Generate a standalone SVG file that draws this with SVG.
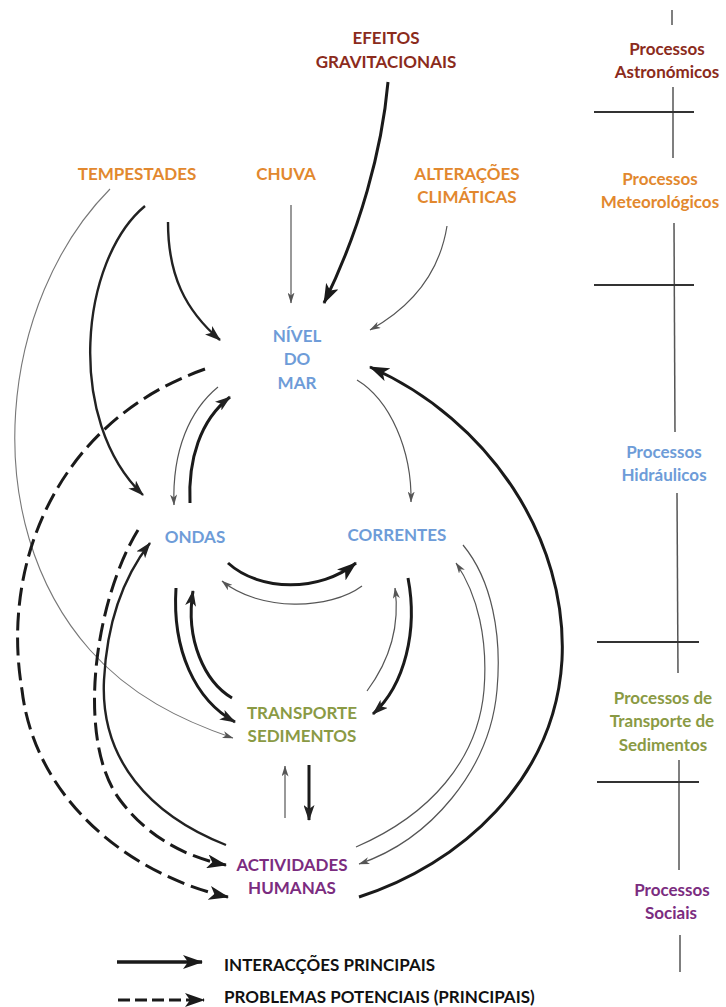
<svg xmlns="http://www.w3.org/2000/svg" width="726" height="1007" viewBox="0 0 726 1007">
  <style>
    .lbl { font-family: Lato, "Liberation Sans", sans-serif; font-weight: bold; font-size: 17px; text-anchor: middle; }
    .astro { fill: #8B2B1C; }
    .meteo { fill: #E2882E; }
    .hidro { fill: #6E9CD8; }
    .sedi { fill: #8A9A44; }
    .soc { fill: #7B2C80; }
    .leg { fill: #111; text-anchor: start; }
    .thick { fill: none; stroke: #1a1a1a; stroke-width: 3; }
    .med { fill: none; stroke: #222; stroke-width: 2.4; }
    .thin { fill: none; stroke: #555; stroke-width: 1.2; }
    .faint { fill: none; stroke: #777; stroke-width: 1.1; }
    .dash { fill: none; stroke: #1a1a1a; stroke-width: 3; stroke-dasharray: 18 7; }
    .scale { fill: none; stroke: #555; stroke-width: 1.5; }
    .tick { fill: none; stroke: #333; stroke-width: 2; }
  </style>
  <defs>
    <marker id="ahBig" markerUnits="userSpaceOnUse" markerWidth="20" markerHeight="14" viewBox="0 0 20 14" refX="19" refY="7" orient="auto">
      <path d="M0,0 L20,7 L0,14 L5,7 z" fill="#1a1a1a"/>
    </marker>
    <marker id="ahMed" markerUnits="userSpaceOnUse" markerWidth="16" markerHeight="11" viewBox="0 0 16 11" refX="15" refY="5.5" orient="auto">
      <path d="M0,0 L16,5.5 L0,11 L4,5.5 z" fill="#222"/>
    </marker>
    <marker id="ahSmall" markerUnits="userSpaceOnUse" markerWidth="11" markerHeight="7" viewBox="0 0 11 7" refX="10.5" refY="3.5" orient="auto">
      <path d="M0,0 L11,3.5 L0,7 L3,3.5 z" fill="#555"/>
    </marker>
  </defs>

  <rect width="726" height="1007" fill="#fff"/>

  <!-- process scale on the right -->
  <g id="scale">
    <line class="scale" x1="672" y1="10" x2="672" y2="25"/>
    <line class="scale" x1="673" y1="87" x2="673" y2="158"/>
    <line class="tick" x1="594" y1="112" x2="694" y2="112"/>
    <line class="scale" x1="674" y1="223" x2="675" y2="432"/>
    <line class="tick" x1="594" y1="285" x2="694" y2="285"/>
    <line class="scale" x1="677" y1="493" x2="678" y2="673"/>
    <line class="tick" x1="597" y1="642" x2="699" y2="642"/>
    <line class="scale" x1="679" y1="760" x2="679" y2="870"/>
    <line class="tick" x1="597" y1="782" x2="699" y2="782"/>
    <line class="scale" x1="680" y1="935" x2="680" y2="972"/>
  </g>

  <g id="scale-labels">
    <text class="lbl astro" x="667" y="55">Processos</text>
    <text class="lbl astro" x="667" y="78">Astronómicos</text>
    <text class="lbl meteo" x="660" y="185">Processos</text>
    <text class="lbl meteo" x="660" y="208">Meteorológicos</text>
    <text class="lbl hidro" x="664" y="458">Processos</text>
    <text class="lbl hidro" x="664" y="481">Hidráulicos</text>
    <text class="lbl sedi" x="663" y="704">Processos de</text>
    <text class="lbl sedi" x="662" y="727">Transporte de</text>
    <text class="lbl sedi" x="663" y="751">Sedimentos</text>
    <text class="lbl soc" x="672" y="896">Processos</text>
    <text class="lbl soc" x="671" y="919">Sociais</text>
  </g>

  <!-- nodes -->
  <g id="efeitos"><text class="lbl astro" x="386" y="44">EFEITOS</text><text class="lbl astro" x="386" y="68">GRAVITACIONAIS</text></g>
  <g id="tempestades"><text class="lbl meteo" x="137" y="180">TEMPESTADES</text></g>
  <g id="chuva"><text class="lbl meteo" x="286" y="180">CHUVA</text></g>
  <g id="alteracoes"><text class="lbl meteo" x="467" y="180">ALTERAÇÕES</text><text class="lbl meteo" x="467" y="203">CLIMÁTICAS</text></g>
  <g id="nivel"><text class="lbl hidro" x="297" y="342">NÍVEL</text><text class="lbl hidro" x="297" y="365">DO</text><text class="lbl hidro" x="297" y="389">MAR</text></g>
  <g id="ondas"><text class="lbl hidro" x="195" y="543">ONDAS</text></g>
  <g id="correntes"><text class="lbl hidro" x="397" y="541">CORRENTES</text></g>
  <g id="transporte"><text class="lbl sedi" x="302" y="719">TRANSPORTE</text><text class="lbl sedi" x="302" y="742">SEDIMENTOS</text></g>
  <g id="actividades"><text class="lbl soc" x="292" y="871">ACTIVIDADES</text><text class="lbl soc" x="292" y="894">HUMANAS</text></g>

  <!-- connectors -->
  <g id="connectors">
    <path class="thick" d="M388,82 C382,150 360,230 324,303" marker-end="url(#ahBig)"/>
    <path class="thin" d="M291,205 L291,303" marker-end="url(#ahSmall)"/>
    <path class="thin" d="M447,226 C440,270 415,305 370,330" marker-end="url(#ahSmall)"/>
    <path class="med" d="M168,222 C168,275 185,310 220,340" marker-end="url(#ahMed)"/>
    <path class="med" d="M145,206 C80,260 65,420 143,495" marker-end="url(#ahMed)"/>
    <path class="faint" d="M110,189 C0,300 -25,520 90,650 C130,695 180,720 233,738" marker-end="url(#ahSmall)"/>
    <path class="dash" d="M205,369 C60,420 0,560 22,690 C35,800 130,875 228,897" marker-end="url(#ahBig)"/>
    <path class="dash" d="M138,530 C95,600 75,740 120,800 C150,840 190,858 226,865" marker-end="url(#ahBig)"/>
    <path class="med" d="M226,845 C150,815 100,760 104,680 C107,620 125,575 150,543" marker-end="url(#ahMed)"/>
    <path class="thin" d="M218,387 C190,410 172,450 174,505" marker-end="url(#ahSmall)"/>
    <path class="thick" d="M190,503 C188,460 200,420 230,397" marker-end="url(#ahMed)"/>
    <path class="thin" d="M357,380 C390,400 412,450 411,502" marker-end="url(#ahSmall)"/>
    <path class="thick" d="M228,563 C260,592 320,592 356,563" marker-end="url(#ahBig)"/>
    <path class="thin" d="M362,586 C330,610 260,612 222,581" marker-end="url(#ahSmall)"/>
    <path class="thick" d="M176,588 C172,650 195,700 235,722" marker-end="url(#ahMed)"/>
    <path class="thick" d="M232,698 C205,682 185,640 193,591" marker-end="url(#ahMed)"/>
    <path class="thin" d="M367,691 C390,660 400,625 395,588" marker-end="url(#ahSmall)"/>
    <path class="thick" d="M408,578 C418,630 405,685 373,714" marker-end="url(#ahMed)"/>
    <path class="thin" d="M285,818 L285,766" marker-end="url(#ahSmall)"/>
    <path class="thick" d="M309,765 L309,820" marker-end="url(#ahMed)"/>
    <path class="thin" d="M463,545 C492,580 502,635 497,690 C490,770 430,840 359,864" marker-end="url(#ahSmall)"/>
    <path class="thin" d="M356,847 C430,815 478,760 484,690 C488,640 478,595 456,563" marker-end="url(#ahSmall)"/>
    <path class="thick" d="M359,897 C460,865 555,780 562,660 C568,540 490,420 370,367" marker-end="url(#ahBig)"/>
  </g>

  <!-- legend -->
  <g id="legend">
    <path class="thick" d="M117,962 L202,962" style="stroke-width:3.5" marker-end="url(#ahBig)"/>
    <path class="dash" d="M118,1000 L204,1000" style="stroke-dasharray:12 5" marker-end="url(#ahBig)"/>
    <text class="lbl leg" x="224" y="971">INTERACÇÕES PRINCIPAIS</text>
    <text class="lbl leg" x="224" y="1003">PROBLEMAS POTENCIAIS (PRINCIPAIS)</text>
  </g>
</svg>
